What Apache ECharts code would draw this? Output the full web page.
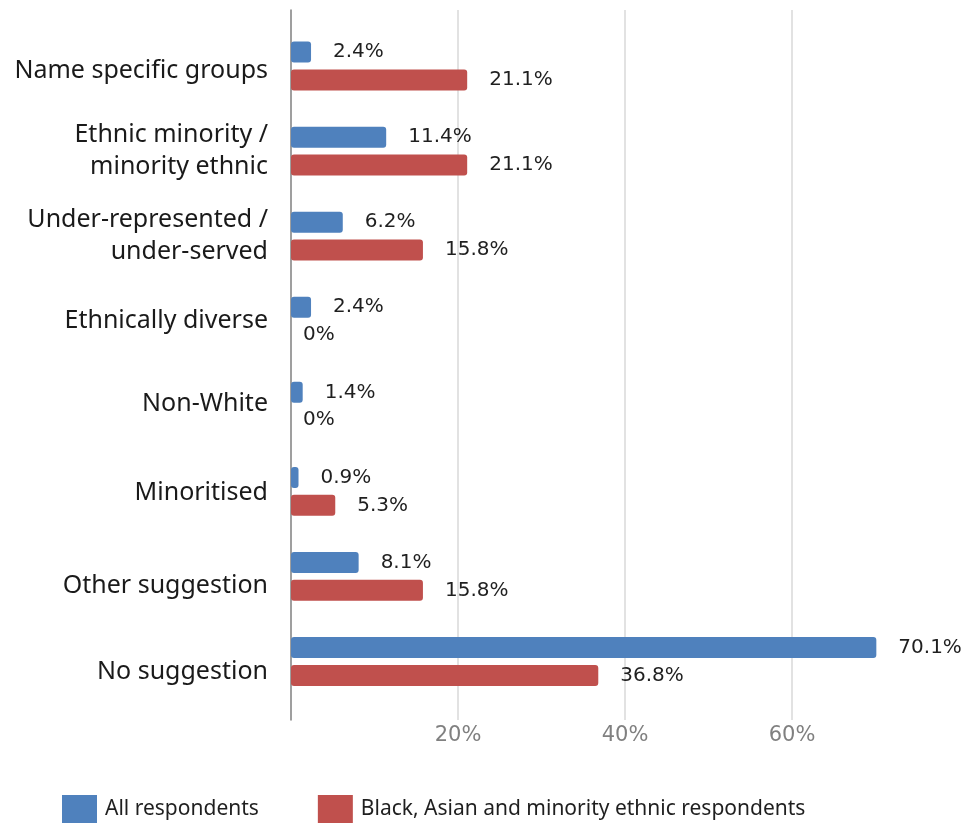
<!DOCTYPE html>
<html>
<head>
<meta charset="utf-8">
<script src="https://cdn.jsdelivr.net/npm/echarts@6/dist/echarts.min.js"></script>
<style>
  html, body { margin: 0; padding: 0; background: #ffffff; }
  #chart { width: 967px; height: 823px; }
</style>
</head>
<body>
<div id="chart"></div>
<script>
// Suggested terms, top to bottom
const categories = [
  'Name specific groups',
  'Ethnic minority /\nminority ethnic',
  'Under-represented /\nunder-served',
  'Ethnically diverse',
  'Non-White',
  'Minoritised',
  'Other suggestion',
  'No suggestion'
];
const seriesNames = ['All respondents', 'Black, Asian and minority ethnic respondents'];
const allRespondents = [2.4, 11.4, 6.2, 2.4, 1.4, 0.9, 8.1, 70.1];
const bameRespondents = [21.1, 21.1, 15.8, 0, 0, 5.3, 15.8, 36.8];
const xTicks = [0, 20, 40, 60, 80];

// Presentation settings
const FONT = '"Noto Sans", "Open Sans", sans-serif';
const NUM_FONT = '"DejaVu Sans", "Noto Sans", sans-serif';
// downward shift (px) for some single-line category labels
const labelNudge = [5, 0, 0, 0, -2, 2, 9, 10];

const xMin = xTicks[0];
const xMax = xTicks[xTicks.length - 1];
const xStep = xTicks[1] - xTicks[0];

function toItems(values) {
  return values.map(v => v === 0 ? { value: v, label: { distance: 12 } } : { value: v });
}

function barSeries(name, values, color) {
  return {
    name: name,
    type: 'bar',
    xAxisIndex: 1,
    yAxisIndex: 1,
    barWidth: 21,
    barGap: '33%',
    data: toItems(values),
    itemStyle: { color: color, borderRadius: 3 },
    label: {
      show: true,
      position: 'right',
      distance: 22,
      color: '#1f1f1f',
      fontSize: 20,
      fontFamily: NUM_FONT,
      formatter: p => p.value + '%'
    }
  };
}

// rich styles: padding on one side of a centred line moves it by half the padding
const richNudge = {};
labelNudge.forEach((n, i) => {
  if (n) {
    richNudge['n' + i] = {
      fontSize: 25,
      fontFamily: FONT,
      color: '#1a1a1a',
      lineHeight: 32,
      padding: n > 0 ? [2 * n, 0, 0, 0] : [0, 0, -2 * n, 0]
    };
  }
});

const chart = echarts.init(document.getElementById('chart'), null, { renderer: 'canvas' });
chart.setOption({
  backgroundColor: '#ffffff',
  animation: false,
  legend: {
    left: 57,
    top: 790,
    itemWidth: 35,
    itemHeight: 28,
    itemGap: 59,
    icon: 'rect',
    textStyle: { fontSize: 21, color: '#1f1f1f', fontFamily: FONT, padding: [0, 0, 0, 3] },
    data: seriesNames
  },
  grid: [
    // frame: gridlines, percent ticks and the vertical axis line
    { left: 291, right: 8, top: 10, bottom: 103, containLabel: false },
    // bars
    { left: 291, right: 8, top: 23.5, bottom: 119, containLabel: false }
  ],
  xAxis: [
    {
      gridIndex: 0,
      type: 'value',
      min: xMin,
      max: xMax,
      interval: xStep,
      axisLine: { show: false },
      axisTick: { show: false },
      axisLabel: {
        margin: 5,
        color: '#808080',
        fontSize: 21,
        fontFamily: NUM_FONT,
        showMinLabel: false,
        showMaxLabel: false,
        formatter: v => v + '%'
      },
      splitLine: {
        show: true,
        showMinLine: false,
        showMaxLine: false,
        lineStyle: { color: '#d9d9d9', width: 1.5 }
      }
    },
    {
      gridIndex: 1,
      type: 'value',
      min: xMin,
      max: xMax,
      interval: xStep,
      show: false
    }
  ],
  yAxis: [
    {
      gridIndex: 0,
      type: 'value',
      min: 0,
      max: 1,
      axisLine: { show: true, lineStyle: { color: '#7f7f7f', width: 1.5 } },
      axisTick: { show: false },
      axisLabel: { show: false },
      splitLine: { show: false }
    },
    {
      gridIndex: 1,
      type: 'category',
      inverse: true,
      data: categories,
      axisLine: { show: false },
      axisTick: { show: false },
      splitLine: { show: false },
      axisLabel: {
        margin: 23,
        color: '#1a1a1a',
        fontSize: 25,
        lineHeight: 32,
        fontFamily: FONT,
        align: 'right',
        formatter: (value, index) => labelNudge[index] ? '{n' + index + '|' + value + '}' : value,
        rich: richNudge
      }
    }
  ],
  series: [
    barSeries(seriesNames[0], allRespondents, '#4f81bd'),
    barSeries(seriesNames[1], bameRespondents, '#c0504d')
  ]
});
</script>
</body>
</html>
